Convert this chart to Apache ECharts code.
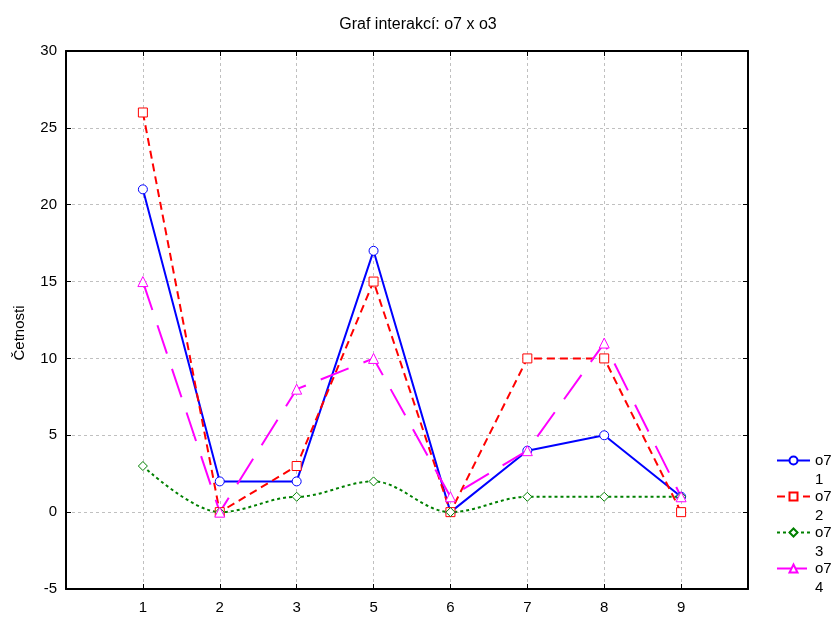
<!DOCTYPE html>
<html>
<head>
<meta charset="utf-8">
<script src="https://cdn.jsdelivr.net/npm/echarts@6/dist/echarts.min.js"></script>
<style>html,body{margin:0;padding:0;background:#fff}#c{width:836px;height:622px}</style>
</head>
<body>
<div id="c"></div>
<script>
var categories = ['1', '2', '3', '5', '6', '7', '8', '9'];
var yTicks = [-5, 0, 5, 10, 15, 20, 25, 30];
var seriesNames = ['o7\n1', 'o7\n2', 'o7\n3', 'o7\n4'];
var o7_1 = [21, 2, 2, 17, 0, 4, 5, 1];
var o7_2 = [26, 0, 3, 15, 0, 10, 10, 0];
var o7_3 = [3, 0, 1, 2, 0, 1, 1, 1];
var o7_4 = [15, 0, 8, 10, 1, 4, 11, 1];

function pts(arr) { return arr.map(function (v, i) { return [i + 1, v]; }); }

var F = 'Liberation Sans, Arial, sans-serif';
var chart = echarts.init(document.getElementById('c'), null, {renderer: 'canvas'});

function mk(name, data, color, symbol, type, smooth) {
  var s = {
    name: name, type: 'line', data: pts(data), symbol: symbol, symbolSize: symbol === 'triangle' ? 10 : 9,
    smooth: smooth || false,
    lineStyle: {color: color, width: 2, type: type},
    itemStyle: {color: '#fff', borderColor: color, borderWidth: 1},
    color: color, z: 3
  };
  if (smooth) s.smoothMonotone = 'x';
  return s;
}

var frameAxis = {onZero: false, lineStyle: {color: '#000', width: 2}};
var tick = {inside: true, length: 5, lineStyle: {color: '#000', width: 1}};
chart.setOption({
  animation: false,
  title: {text: 'Graf interakcí: o7 x o3', left: 'center', top: 12,
    textStyle: {fontFamily: F, fontSize: 16, fontWeight: 'normal', color: '#000'}},
  grid: {left: 66, right: 88, top: 51, bottom: 33, containLabel: false},
  xAxis: [{
    type: 'value', min: 0, max: 8.87, interval: 1,
    axisLine: frameAxis, axisTick: tick,
    axisLabel: {fontFamily: F, fontSize: 15, color: '#000', margin: 11,
      formatter: function (v) { return categories[v - 1] || ''; }, showMaxLabel: false},
    splitLine: {show: true, lineStyle: {color: '#c0c0c0', type: [3, 3], width: 1}}
  }, {
    type: 'value', min: 0, max: 8.87, interval: 1, position: 'top',
    axisLine: frameAxis, axisTick: tick,
    axisLabel: {show: false}, splitLine: {show: false}
  }],
  yAxis: [{
    type: 'value', min: yTicks[0], max: yTicks[yTicks.length - 1], interval: 5,
    axisLine: frameAxis, axisTick: tick,
    axisLabel: {fontFamily: F, fontSize: 15, color: '#000', margin: 9},
    splitLine: {show: true, lineStyle: {color: '#c0c0c0', type: [3, 3], width: 1}}
  }, {
    type: 'value', min: yTicks[0], max: yTicks[yTicks.length - 1], interval: 5, position: 'right',
    axisLine: frameAxis, axisTick: tick,
    axisLabel: {show: false}, splitLine: {show: false}
  }],
  legend: {
    orient: 'vertical', left: 771, top: 427, itemWidth: 33, itemHeight: 10, itemGap: -21,
    data: seriesNames,
    formatter: function (n) { return ' \n' + n; },
    textStyle: {fontFamily: F, fontSize: 15, color: '#000', lineHeight: 19}
  },
  graphic: [{
    type: 'text', x: 20, y: 333, rotation: Math.PI / 2,
    style: {text: 'Četnosti', font: '15px ' + F, fill: '#000', textAlign: 'center', textVerticalAlign: 'middle'}
  }],
  series: [
    mk(seriesNames[0], o7_1, '#0000ff', 'circle', 'solid'),
    mk(seriesNames[1], o7_2, '#ff0000', 'rect', [8, 5]),
    mk(seriesNames[2], o7_3, '#008000', 'diamond', [3, 3], 0.35),
    mk(seriesNames[3], o7_4, '#ff00ff', 'triangle', [30, 16])
  ]
});
</script>
</body>
</html>
